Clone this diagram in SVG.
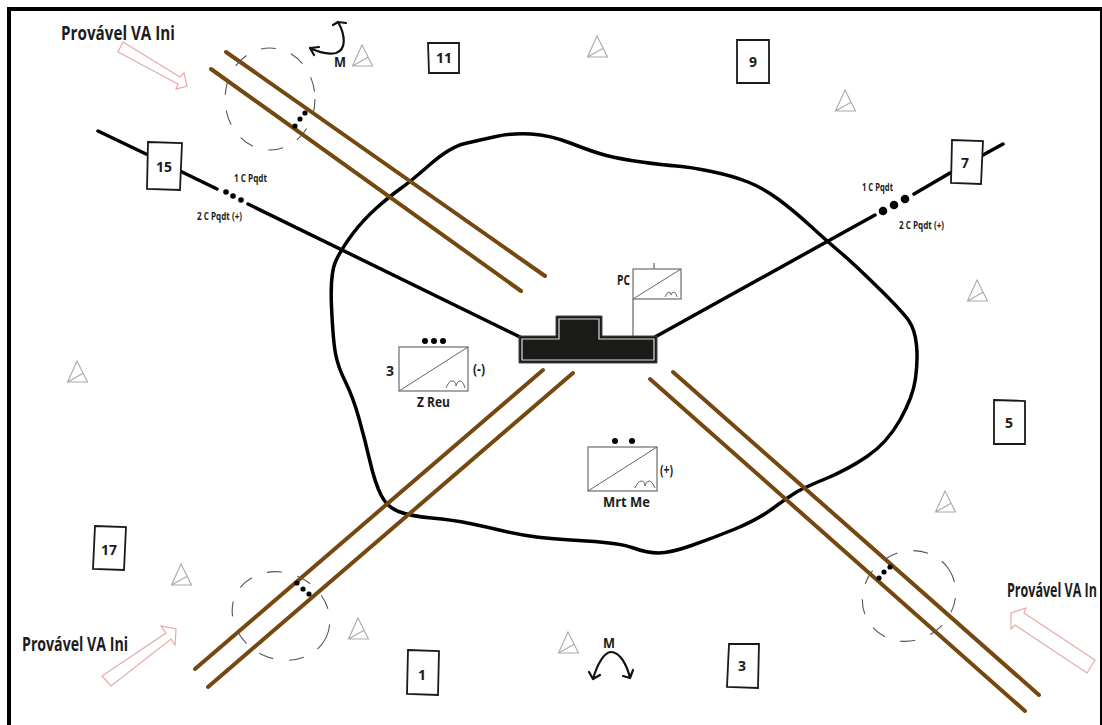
<svg xmlns="http://www.w3.org/2000/svg" width="1102" height="725" viewBox="0 0 1102 725">
<style>
text{font-family:"Open Sans","Liberation Sans",sans-serif;font-weight:700;fill:#1c1c1c}
.big{font-size:19px}
.sm{font-size:10px}
.lb{font-size:14px}
.num{font-size:14px;text-anchor:middle}
.road{stroke:#75480f;stroke-width:4;stroke-linecap:round;fill:none}
.rail{stroke:#000;stroke-width:3.5;stroke-linecap:round;fill:none}
.box{fill:#fff;stroke:#1a1a1a;stroke-width:1.8}
.mil{fill:#fff;stroke:#777;stroke-width:1.3}
.thin{fill:none;stroke:#666;stroke-width:1}
.red{fill:#fff;stroke:#e6a9a9;stroke-width:1.2}
.dash{fill:none;stroke:#555;stroke-width:1.1;stroke-dasharray:15 16}
.arr{fill:none;stroke:#111;stroke-width:2.2;stroke-linecap:round;stroke-linejoin:round}
.tri{fill:none;stroke:#aaa;stroke-width:1.1}
</style>
<defs>
<g id="tri"><path class="tri" d="M0,0 L-9.5,21 L10.5,21 Z M-9.5,21 L6.5,12"/></g>
</defs>
<rect width="1102" height="725" fill="#fff"/>
<g id="frame">
<path d="M9,725 V9 H1101" fill="none" stroke="#000" stroke-width="4"/>
<path d="M1101,7 V725" stroke="#000" stroke-width="2"/>
</g>
<g id="area">
<path fill="none" stroke="#000" stroke-width="3.5" stroke-linejoin="round" d="M465,143.5 Q480,140 496,136.5 Q512,133 531,134 Q550,135 571.5,143.5 Q593,152 606.5,155.5 Q620,159 641.5,162 Q663,165 676.5,166 Q690,167 711.5,171.5 Q733,176 748,182 Q763,188 778,199 Q793,210 810.5,226 Q828,242 840.5,252.5 Q853,263 878,287.5 Q903,312 909,321 Q915,330 916.5,345 Q918,360 915.5,378.5 Q913,397 900,420 Q887,443 867,456.5 Q847,470 825,479 Q803,488 795,493 Q787,498 772,509 Q757,520 735,529 Q713,538 691.5,545.5 Q670,553 658.5,553 Q647,553 633.5,548 Q620,543 586.5,541 Q553,539 536.5,537 Q520,535 503.5,531 Q487,527 470,523.5 Q453,520 431.5,518 Q410,516 398.5,511.5 Q387,507 381,495 Q375,483 370,461.5 Q365,440 359,418.5 Q353,397 345.5,382 Q338,367 335.5,353.5 Q333,340 331.5,306.5 Q330,273 336,260.5 Q342,248 352.5,234 Q363,220 376.5,208 Q390,196 400,189 Q410,182 430,164.5 Q450,147 465,143.5 Z"/>
</g>
<g id="connectors">
<path class="road" d="M226,52 L545,276 M211,69 L521,291"/>
<path class="road" d="M543,370 L195,669 M573,373 L208,687"/>
<path class="road" d="M673,372 L1039,695 M650,379 L1025,711"/>
<path class="rail" d="M98,131 L146,154 M180,171 L217,189 M248,204 L520,337"/>
<path class="rail" d="M655,337 L875,215 M914,194 L950,173 M983,155 L1003,144"/>
<path d="M633,299 V336 M654,263 V269" stroke="#666" stroke-width="1.2" fill="none"/>
</g>
<g id="circles">
<ellipse class="dash" cx="270" cy="99" rx="45" ry="51"/>
<ellipse class="dash" cx="281" cy="616" rx="50" ry="43" transform="rotate(25 281 616)"/>
<ellipse class="dash" cx="909" cy="596" rx="48" ry="44" transform="rotate(-35 909 596)"/>
</g>
<g id="dots" fill="#000">
<circle cx="295" cy="126" r="2.6"/><circle cx="300" cy="119" r="2.6"/><circle cx="305" cy="113" r="2.6"/>
<circle cx="297" cy="583" r="2.6"/><circle cx="303" cy="589" r="2.6"/><circle cx="309" cy="594" r="2.6"/>
<circle cx="879" cy="578" r="2.6"/><circle cx="884" cy="572" r="2.6"/><circle cx="890" cy="567" r="2.6"/>
<circle cx="226" cy="192" r="2.8"/><circle cx="233" cy="196" r="2.8"/><circle cx="241" cy="200" r="2.8"/>
<circle cx="883" cy="211" r="4.3"/><circle cx="894" cy="205" r="4.3"/><circle cx="905" cy="199" r="4.3"/>
</g>
<g id="node-15"><polygon class="box" points="148,142 182,143 180,190 147,189"/><text class="num" x="164" y="172">15</text></g>
<g id="node-11"><polygon class="box" points="428,43 459,43 459,73 429,73"/><text class="num" x="444" y="63">11</text></g>
<g id="node-9"><polygon class="box" points="737,40 769,40 769,83 737,83"/><text class="num" x="753" y="67">9</text></g>
<g id="node-7"><polygon class="box" points="952,140 983,141 981,184 951,183"/><text class="num" x="965" y="168">7</text></g>
<g id="node-5"><polygon class="box" points="994,400 1025,401 1025,444 994,444"/><text class="num" x="1009" y="428">5</text></g>
<g id="node-17"><polygon class="box" points="95,526 126,527 124,570 93,569"/><text class="num" x="109" y="555">17</text></g>
<g id="node-1"><polygon class="box" points="408,650 439,651 438,695 407,694"/><text class="num" x="422" y="680">1</text></g>
<g id="node-3"><polygon class="box" points="729,644 759,644 758,688 727,687"/><text class="num" x="742" y="671">3</text></g>
<g id="node-cp">
<polygon points="519,336 556,336 556,316 602,316 602,336 657,336 657,363 519,363" fill="#1a1a18" stroke="#444" stroke-width="1"/>
<polygon points="522,339 559,339 559,319 599,319 599,339 654,339 654,360 522,360" fill="none" stroke="#ddd" stroke-width="1.2"/>
</g>
<g id="node-pc">
<rect class="mil" x="633" y="269" width="48" height="30" stroke-width="1"/>
<path class="thin" d="M633,299 L681,269 M665,297 Q667,292 669,292 Q671,292 671,295 Q672,292 674,292 Q676,292 677,297"/>
<text class="lb" x="617" y="285" textLength="13" lengthAdjust="spacingAndGlyphs">PC</text>
</g>
<g id="node-zreu">
<rect class="mil" x="399" y="347" width="69" height="44"/>
<path class="thin" d="M399,391 L468,347 M446,388 Q449,381 452,381 Q456,381 456,386 Q457,381 460,381 Q463,381 465,388"/>
<circle cx="425" cy="341" r="3"/><circle cx="434" cy="341" r="3"/><circle cx="443" cy="341" r="3"/>
<text class="lb" x="386" y="376">3</text>
<text class="lb" x="473" y="374" textLength="12" lengthAdjust="spacingAndGlyphs">(-)</text>
<text class="lb" x="417" y="407" textLength="33" lengthAdjust="spacingAndGlyphs">Z Reu</text>
</g>
<g id="node-mrt">
<rect class="mil" x="588" y="447" width="69" height="44"/>
<path class="thin" d="M588,491 L657,447 M635,488 Q638,481 641,481 Q645,481 645,486 Q646,481 649,481 Q652,481 655,488"/>
<circle cx="615" cy="441" r="3"/><circle cx="632" cy="441" r="3"/>
<text class="lb" x="660" y="475" textLength="13" lengthAdjust="spacingAndGlyphs">(+)</text>
<text class="lb" x="603" y="507" textLength="47" lengthAdjust="spacingAndGlyphs">Mrt Me</text>
</g>
<g id="triangles">
<use href="#tri" x="362" y="45"/><use href="#tri" x="597" y="36"/><use href="#tri" x="845" y="90"/><use href="#tri" x="977" y="280"/>
<use href="#tri" x="77" y="361"/><use href="#tri" x="945" y="491"/><use href="#tri" x="181" y="564"/><use href="#tri" x="358" y="618"/><use href="#tri" x="568" y="632"/>
</g>
<g id="arrows-va">
<polygon class="red" points="123,42 180,77 184,73 187,86 176,89 178,84 118,52"/>
<polygon class="red" points="102,676 166,633 161,626 176,629 175,645 171,639 111,686"/>
<polygon class="red" points="1095,660 1024,613 1026,608 1011,613 1011,629 1015,625 1087,673"/>
</g>
<g id="labels">
<text class="big" x="61" y="40" textLength="114" lengthAdjust="spacingAndGlyphs">Provável VA Ini</text>
<text class="big" x="22" y="651" textLength="106" lengthAdjust="spacingAndGlyphs">Provável VA Ini</text>
<text class="big" x="1007" y="597" textLength="90" lengthAdjust="spacingAndGlyphs">Provável VA In</text>
<text class="sm" x="234" y="182" textLength="33" lengthAdjust="spacingAndGlyphs">1 C Pqdt</text>
<text class="sm" x="197" y="220" textLength="45" lengthAdjust="spacingAndGlyphs">2 C Pqdt (+)</text>
<text class="sm" x="862" y="191" textLength="31" lengthAdjust="spacingAndGlyphs">1 C Pqdt</text>
<text class="sm" x="899" y="229" textLength="45" lengthAdjust="spacingAndGlyphs">2 C Pqdt (+)</text>
<text class="lb" x="334" y="67" textLength="12" lengthAdjust="spacingAndGlyphs">M</text>
<text class="lb" x="603" y="648" textLength="12" lengthAdjust="spacingAndGlyphs">M</text>
</g>
<g id="arrows-m">
<path class="arr" d="M338,22 C346,36 346,50 336,53 C326,55 318,52 310,48 M333,25 L338,22 L346,23 M310,48 L319,47 M310,48 L314,55"/>
<path class="arr" d="M593,679 C597,665 604,652 611,652 C620,652 627,665 630,678 M589,672 L593,679 L600,675 M623,676 L630,678 L633,670"/>
</g>
</svg>
